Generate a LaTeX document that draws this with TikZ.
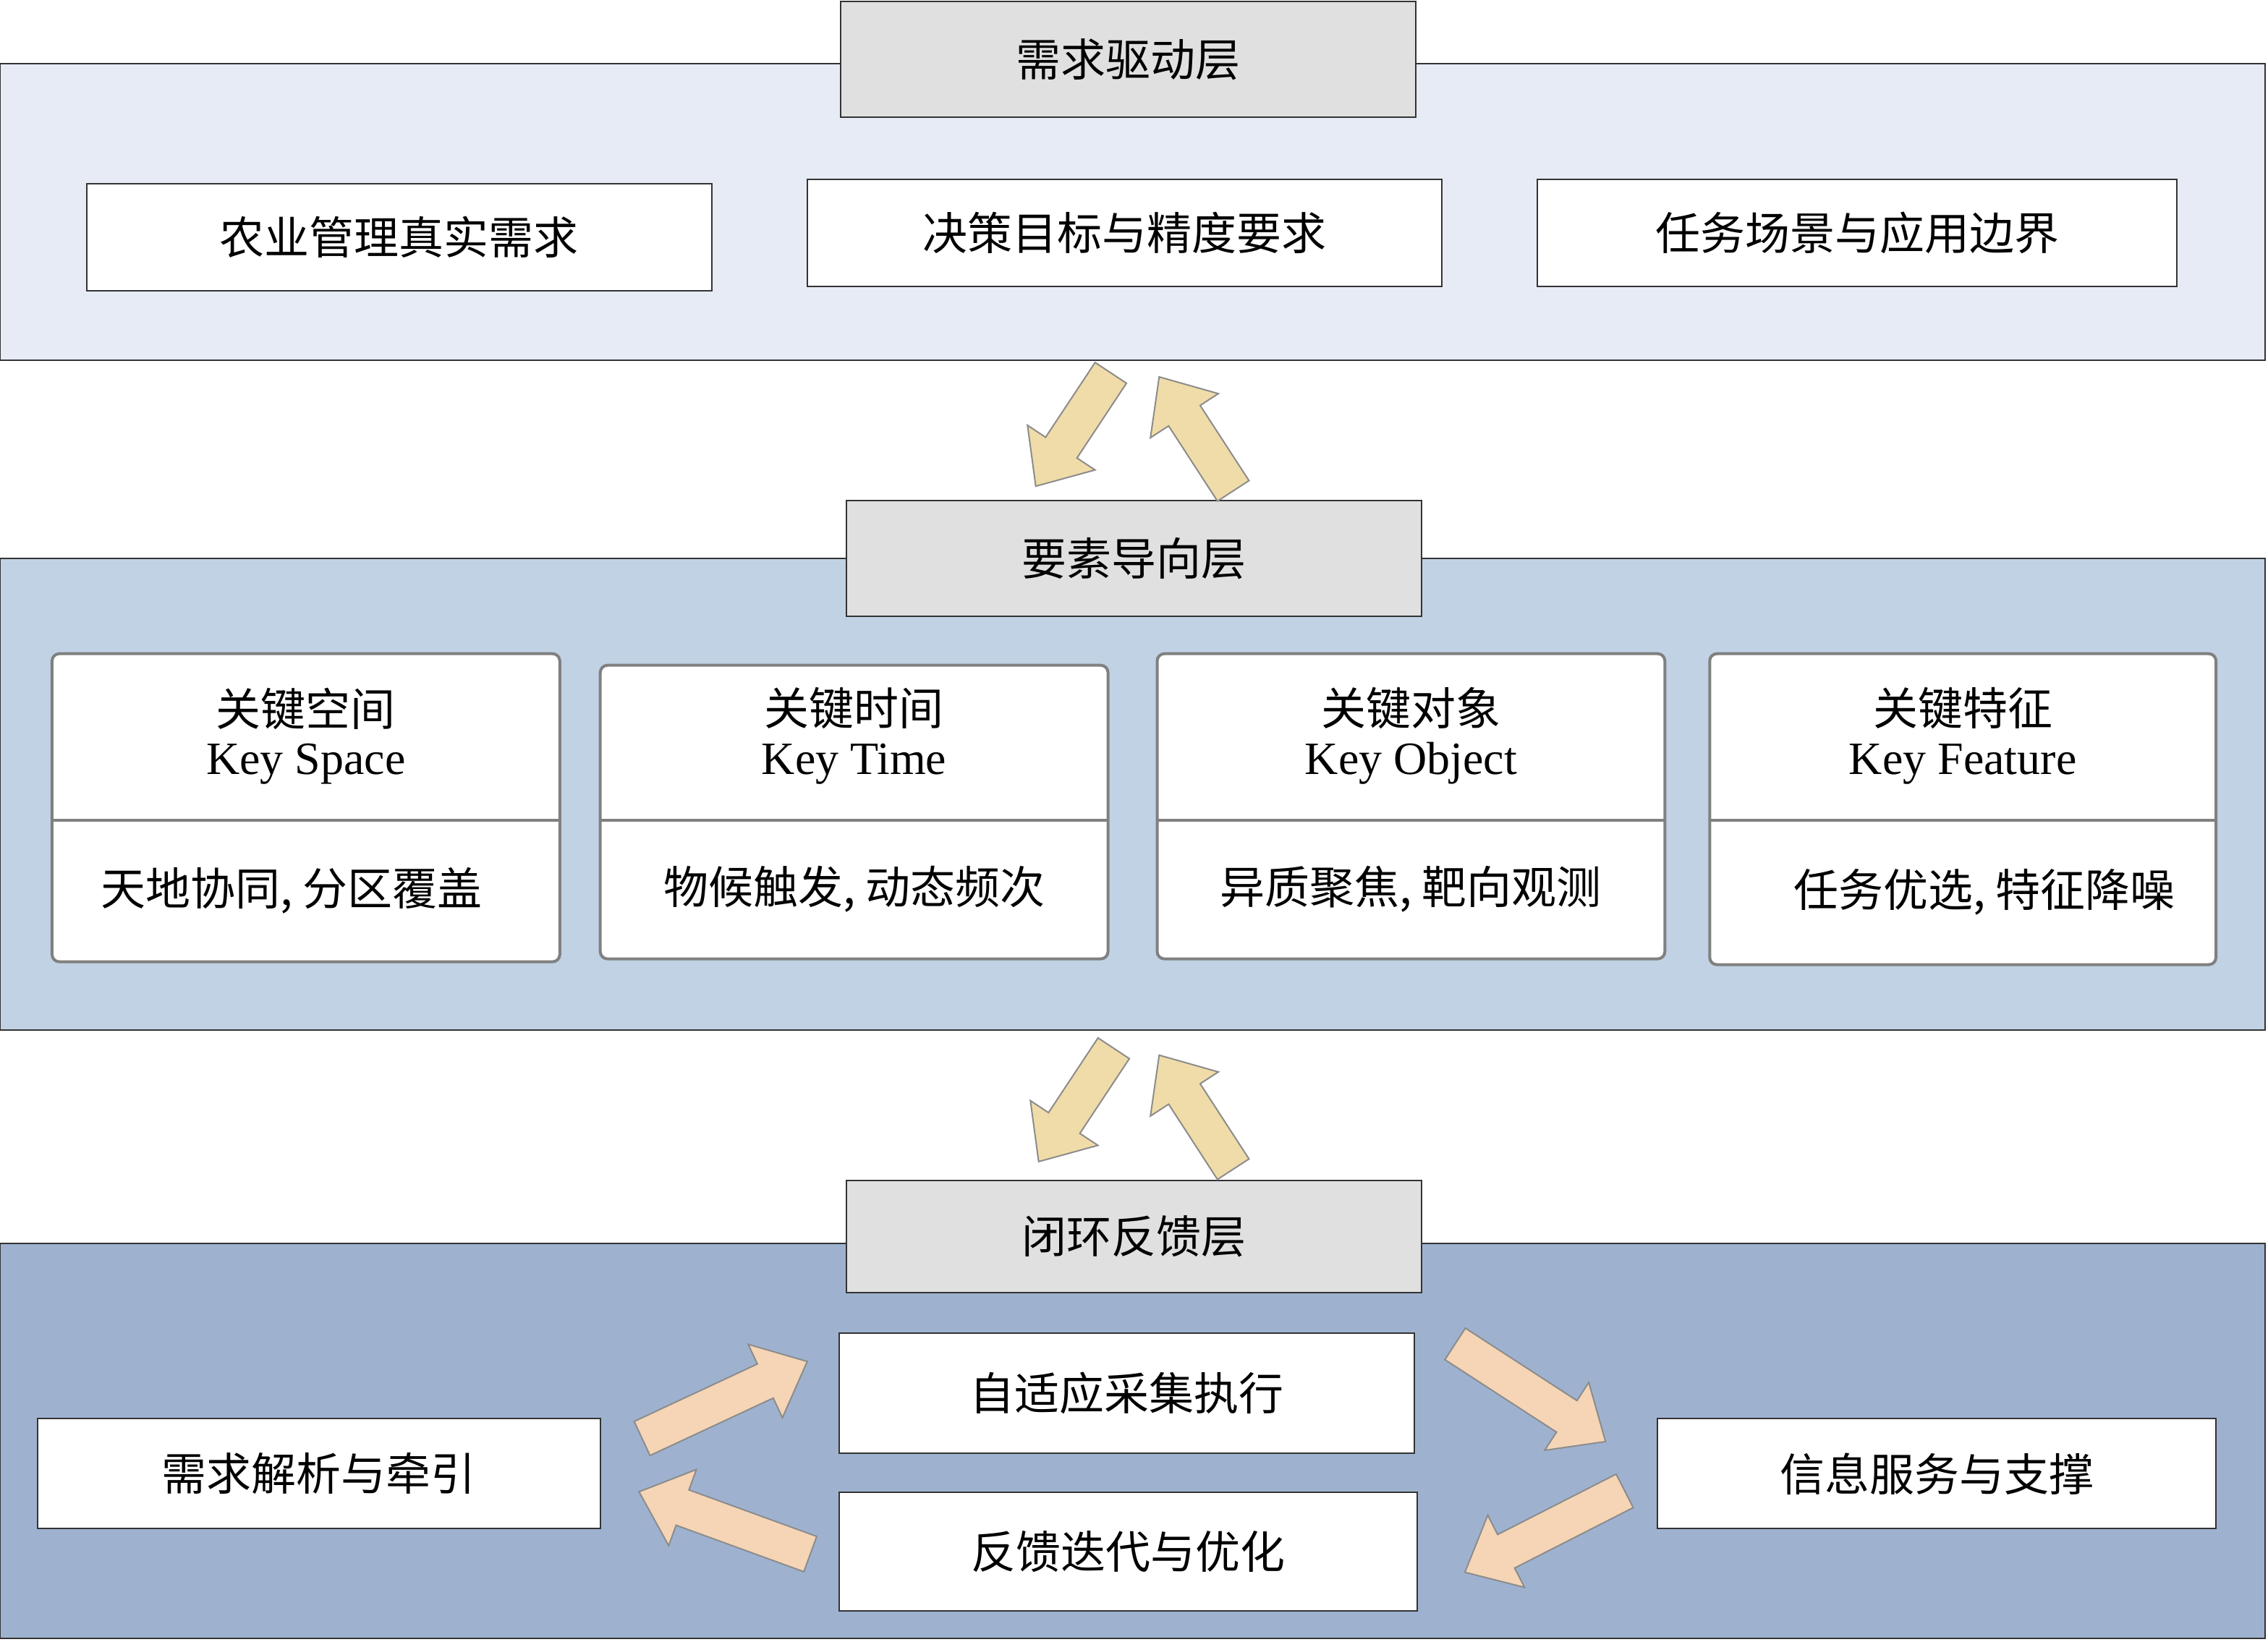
\documentclass[tikz,border=0pt]{standalone}
\usepackage{fontspec}
\setmainfont{Liberation Serif}
\newfontfamily\cjk{Noto Sans CJK SC}
\definecolor{bandA}{HTML}{E6EBF5}
\definecolor{bandB}{HTML}{C0D2E4}
\definecolor{bandC}{HTML}{9EB2D0}
\definecolor{ttl}{HTML}{E0E0E0}
\definecolor{tan}{HTML}{F0DCA8}
\definecolor{peach}{HTML}{F5D5B5}
\newcommand{\blockarrow}[5]{% x,y,angle,length,color
 \begin{scope}[shift={(#1,#2)},rotate=#3]
 \draw[draw=black!45,line width=1pt,fill=#5] ({-#4/2},-13) -- ({#4/2-32},-13) -- ({#4/2-32},-28) -- ({#4/2},0) -- ({#4/2-32},28) -- ({#4/2-32},13) -- ({-#4/2},13) -- cycle;
 \end{scope}}
\begin{document}
\begin{tikzpicture}[x=1pt,y=-1pt,
  every node/.style={font=\fontsize{32}{36}\selectfont},
  cj/.style={font=\cjk\fontsize{31}{36}\selectfont},
  band/.style={draw=black!80,line width=1pt},
  ttlbox/.style={draw=black!80,fill=ttl,line width=1pt},
  box/.style={draw=black!80,fill=white,line width=1pt},
  card/.style={draw=black!50,fill=white,line width=2pt,rounded corners=5pt}]
\useasboundingbox (0,0) rectangle (1568,1135);
% top band
\draw[band,fill=bandA] (0,44) rectangle (1566,249);
\draw[ttlbox] (581,1) rectangle (979,81) node[midway,cj] (t1) {需求驱动层};
\draw[box] (60,127) rectangle (492,201) node[midway,cj] (a1) {农业管理真实需求};
\draw[box] (558,124) rectangle (997,198) node[midway,cj] (a2) {决策目标与精度要求};
\draw[box] (1063,124) rectangle (1505,198) node[midway,cj] (a3) {任务场景与应用边界};
% middle band
\draw[band,fill=bandB] (0,386) rectangle (1566,712);
\draw[ttlbox] (585,346) rectangle (983,426) node[midway,cj] (t2) {要素导向层};
\foreach \xa/\ya/\xb/\yb/\cn/\en/\bt [count=\i] in {
 36/452/387/665/关键空间/Key Space/{天地协同, 分区覆盖},
 415/460/766/663/关键时间/Key Time/{物候触发, 动态频次},
 800/452/1151/663/关键对象/Key Object/{异质聚焦, 靶向观测},
 1182/452/1532/667/关键特征/Key Feature/{任务优选, 特征降噪}}{
  \draw[card] (\xa,\ya) rectangle (\xb,\yb);
  \draw[black!50,line width=2pt] (\xa,567) -- (\xb,567);
  \node[align=center] (k\i) at ({(\xa+\xb)/2},509) {{\cjk\fontsize{31}{36}\selectfont\cn}\\[-2pt]\en};
  \node[cj] (b\i) at ({(\xa+\xb)/2+(\i==4)*15-(\i==1)*10},{(567+\yb)/2}) {\bt};
}
% bottom band
\draw[band,fill=bandC] (0,860) rectangle (1566,1133);
\draw[ttlbox] (585,816) rectangle (983,894) node[midway,cj] (t3) {闭环反馈层};
\draw[box] (26,981) rectangle (415,1057) node[midway,cj] (c1) {需求解析与牵引};
\draw[box] (580,922) rectangle (978,1005) node[midway,cj] (c2) {自适应采集执行};
\draw[box] (580,1032) rectangle (980,1114) node[midway,cj] (c3) {反馈迭代与优化};
\draw[box] (1146,981) rectangle (1532,1057) node[midway,cj] (c4) {信息服务与支撑};
% block arrows
\blockarrow{742}{297}{236.5}{94}{tan}
\blockarrow{827}{300}{123}{94}{tan}
\blockarrow{744}{764}{236.5}{94}{tan}
\blockarrow{827}{769}{123}{94}{tan}
\blockarrow{501}{968}{25}{126}{peach}
\blockarrow{1058}{963}{-33}{124}{peach}
\blockarrow{1068}{1059}{207}{124}{peach}
\blockarrow{501}{1053}{160}{126}{peach}
\end{tikzpicture}
\end{document}
